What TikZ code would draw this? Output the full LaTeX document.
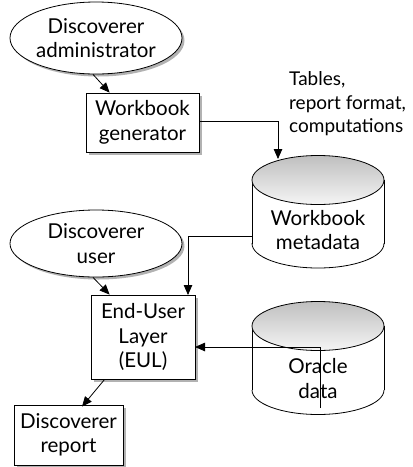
\documentclass[tikz,border=0pt]{standalone}
\usepackage{fontspec}
\setmainfont{Lato}
\usetikzlibrary{arrows.meta,shadows,shapes.geometric,calc}
\begin{document}
\begin{tikzpicture}[x=1pt,y=-1pt,
  every node/.style={font=\fontsize{20.5}{24.5}\selectfont, align=center, inner sep=0pt},
  conn/.style={line width=0.8pt},
  arr/.style={line width=0.8pt, -{Triangle[length=10pt,width=8.5pt]}},
  shad/.style={drop shadow={shadow xshift=2.5pt, shadow yshift=-2.5pt, fill=gray!60, opacity=1}},
  boxnode/.style={rectangle, draw, fill=white, line width=0.8pt, shad},
  ellnode/.style={ellipse, draw, fill=white, line width=0.8pt, shad},
  cylarea/.style={rectangle, minimum width=132pt},
  cyltop/.style={draw, line width=0.8pt, top color=gray!50, bottom color=gray!8},
]
\useasboundingbox (0,0) rectangle (413,467);

% ---- cylinders (drawn directly) ----
\newcommand{\drawcyl}[4]{% cx, top cy, bottom cy, ry
  \fill[white] (#1-66,#2) rectangle (#1+66,#3);
  \fill[white] (#1,#3) ellipse [x radius=66, y radius=#4];
  \begin{scope}
    \clip (#1-70,#3) rectangle (#1+70,#3+#4+3);
    \draw[conn] (#1,#3) ellipse [x radius=66, y radius=#4];
  \end{scope}
  \draw[conn] (#1-66,#2) -- (#1-66,#3);
  \draw[conn] (#1+66,#2) -- (#1+66,#3);
  \shade[cyltop] (#1,#2) ellipse [x radius=66, y radius=#4];
}
\drawcyl{318}{180}{243.5}{24.5}
\drawcyl{318}{326}{390}{24.5}

% ---- nodes ----
\node[ellnode, minimum width=172pt, minimum height=72pt] (admin) at (96,38) {Discoverer\\administrator};
\node[boxnode, minimum width=113pt, minimum height=59pt] (gen) at (142.5,122.5) {Workbook\\generator};
\node[anchor=west, align=left, font=\fontsize{19}{23.5}\selectfont] (tables) at (289,104) {Tables,\\report format,\\computations};
\node[cylarea, minimum height=113pt] (meta) at (318,211) {};
\node at (318,230) (metatext) {Workbook\\metadata};
\node[ellnode, minimum width=172pt, minimum height=67pt] (user) at (96,243.5) {Discoverer\\user};
\node[boxnode, minimum width=104pt, minimum height=84pt] (eul) at (143,337) {End-User\\Layer\\(EUL)};
\node[cylarea, minimum height=113pt] (oracle) at (318,358) {};
\node at (318,378.5) (oracletext) {Oracle\\data};
\node[boxnode, minimum width=109pt, minimum height=60pt] (report) at (68.5,435) {Discoverer\\report};

% ---- connector end points ----
\coordinate (metain) at (278,159);
\coordinate (metaout) at (252,236);
\coordinate (eultop) at (188,295);
\coordinate (eulright) at (195,347);
\coordinate (oraclesrc) at (320,408);

% ---- connectors ----
\draw[arr] ([xshift=-3pt]admin.south) -- ([xshift=24pt]gen.north west);
\draw[arr] ([yshift=1.5pt]gen.east) -| (metain);
\draw[arr] (metaout) -| (eultop);
\draw[arr] ([xshift=-3pt]user.south) -- ([xshift=19pt]eul.north west);
\draw[arr] (oraclesrc) |- (eulright);
\draw[arr] ([xshift=14pt]eul.south west) -- ([xshift=13.5pt,yshift=-2pt]report.north);
\end{tikzpicture}
\end{document}
